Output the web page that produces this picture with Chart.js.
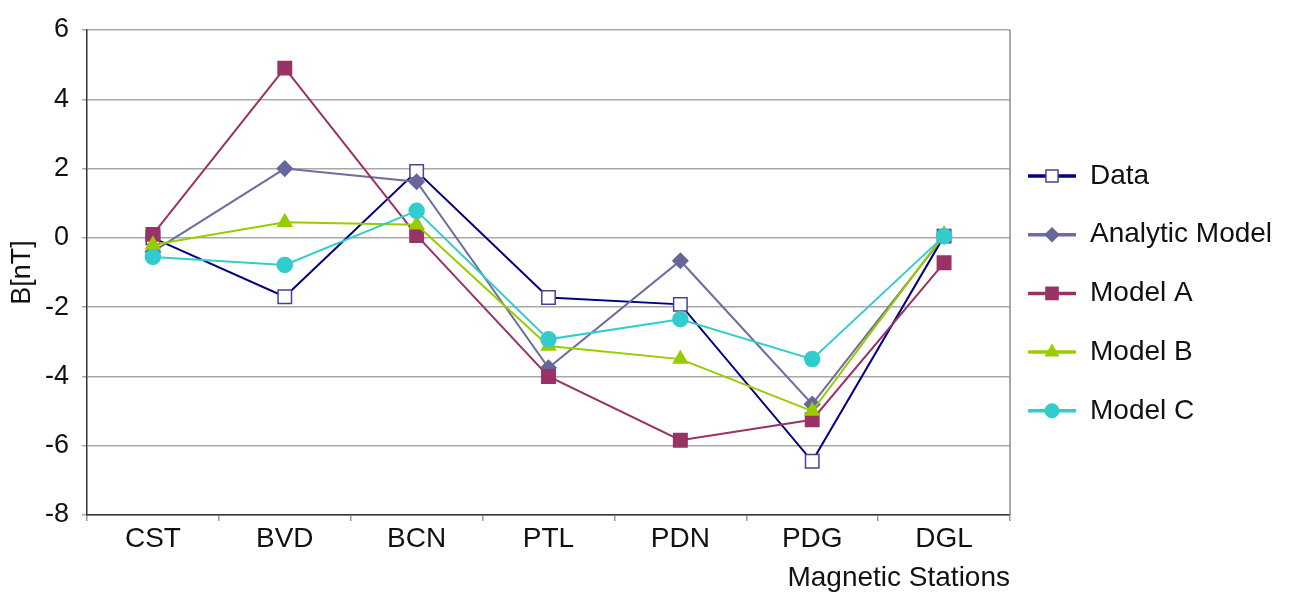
<!DOCTYPE html>
<html>
<head>
<meta charset="utf-8">
<script src="https://cdn.jsdelivr.net/npm/chart.js@4"></script>
<style>
  html, body { margin: 0; padding: 0; background: #fff; }
  #wrap { width: 1295px; height: 595px; }
</style>
</head>
<body>
<div id="wrap"><canvas id="stationsChart" width="1295" height="595"></canvas></div>
<script>
// stations on the x axis
const stations = ['CST', 'BVD', 'BCN', 'PTL', 'PDN', 'PDG', 'DGL'];

// B [nT] per station
const dataValues     = [0.0, -1.70, 1.92, -1.72, -1.92, -6.45, 0.05];
const analyticValues = [-0.40, 2.00, 1.62, -3.75, -0.66, -4.80, 0.05];
const modelAValues   = [0.10, 4.90, 0.07, -4.00, -5.84, -5.25, -0.72];
const modelBValues   = [-0.20, 0.45, 0.38, -3.12, -3.50, -5.00, 0.10];
const modelCValues   = [-0.55, -0.78, 0.78, -2.93, -2.35, -3.50, 0.05];

const seriesNames = ['Data', 'Analytic Model', 'Model A', 'Model B', 'Model C'];
const yTicks = [-8, -6, -4, -2, 0, 2, 4, 6];

const FONT = '"Liberation Sans", Arial, sans-serif';

function makeSeries(label, values, color, style, radius, fill, border, order) {
  return {
    label: label,
    data: values,
    borderColor: color,
    borderWidth: 2,
    pointStyle: style,
    pointRadius: radius,
    pointHoverRadius: radius,
    pointBackgroundColor: fill,
    pointBorderColor: border,
    pointBorderWidth: 1.5,
    tension: 0,
    order: order,
  };
}

const datasets = [
  makeSeries(seriesNames[0], dataValues, '#000080', 'rect', 9.5, '#ffffff', '#45458f', 4),
  makeSeries(seriesNames[1], analyticValues, '#6e6e9e', 'rectRot', 7.5, '#66669a', '#66669a', 3),
  makeSeries(seriesNames[2], modelAValues, '#993366', 'rect', 9.5, '#993366', '#993366', 2),
  makeSeries(seriesNames[3], modelBValues, '#99cc00', 'triangle', 8, '#99cc00', '#99cc00', 1),
  makeSeries(seriesNames[4], modelCValues, '#33cccc', 'circle', 7.5, '#33cccc', '#33cccc', 0),
];

// right border of the plot box + legend with line and marker
const framePlugin = {
  id: 'frame',
  afterDraw(chart) {
    const { ctx, chartArea } = chart;
    ctx.save();
    ctx.strokeStyle = '#8c8c8c';
    ctx.lineWidth = 1.5;
    ctx.beginPath();
    ctx.moveTo(chartArea.right, chartArea.top);
    ctx.lineTo(chartArea.right, chartArea.bottom);
    ctx.stroke();

    const x0 = 1028, x1 = 1076, tx = 1090;
    let y = 176;
    chart.data.datasets.forEach(ds => {
      ctx.strokeStyle = ds.borderColor;
      ctx.lineWidth = 3.5;
      ctx.beginPath();
      ctx.moveTo(x0, y);
      ctx.lineTo(x1, y);
      ctx.stroke();
      ctx.fillStyle = ds.pointBackgroundColor;
      ctx.strokeStyle = ds.pointBorderColor;
      ctx.lineWidth = ds.pointBorderWidth;
      Chart.helpers.drawPoint(ctx, {
        pointStyle: ds.pointStyle,
        radius: ds.pointRadius * 0.9,
        borderWidth: ds.pointBorderWidth,
        rotation: 0,
      }, (x0 + x1) / 2, y);
      ctx.fillStyle = '#111';
      ctx.font = '28px ' + FONT;
      ctx.textAlign = 'left';
      ctx.textBaseline = 'middle';
      ctx.fillText(ds.label, tx, y);
      y += 58.7;
    });
    ctx.restore();
  }
};

new Chart(document.getElementById('stationsChart').getContext('2d'), {
  type: 'line',
  data: {
    labels: stations,
    datasets: datasets,
  },
  options: {
    responsive: false,
    animation: false,
    events: [],
    layout: { padding: { top: 30, right: 285, left: 0, bottom: 0 } },
    plugins: {
      legend: { display: false },
      tooltip: { enabled: false },
    },
    scales: {
      x: {
        offset: true,
        grid: {
          offset: true,
          drawOnChartArea: false,
          drawTicks: true,
          tickLength: 6,
          color: '#999',
          lineWidth: 1.5,
        },
        border: { color: '#333', width: 1.5 },
        ticks: { color: '#111', padding: 1, font: { family: FONT, size: 28 } },
        title: {
          display: true,
          text: 'Magnetic Stations',
          align: 'end',
          color: '#111',
          padding: { top: 0, bottom: 0 },
          font: { family: FONT, size: 28 },
        },
        afterFit(scale) { scale.height = 80; },
      },
      y: {
        min: -8,
        max: 6,
        afterBuildTicks(scale) { scale.ticks = yTicks.map(v => ({ value: v })); },
        grid: {
          color: '#a8a8a8',
          lineWidth: 1.5,
          drawTicks: true,
          tickLength: 5,
        },
        border: { color: '#333', width: 1.5 },
        ticks: { color: '#111', padding: 13, font: { family: FONT, size: 27 } },
        title: {
          display: true,
          text: 'B[nT]',
          color: '#111',
          padding: { top: 6, bottom: 0 },
          font: { family: FONT, size: 27 },
        },
        afterFit(scale) { scale.width = 87; },
      },
    },
  },
  plugins: [framePlugin],
});
</script>
</body>
</html>
